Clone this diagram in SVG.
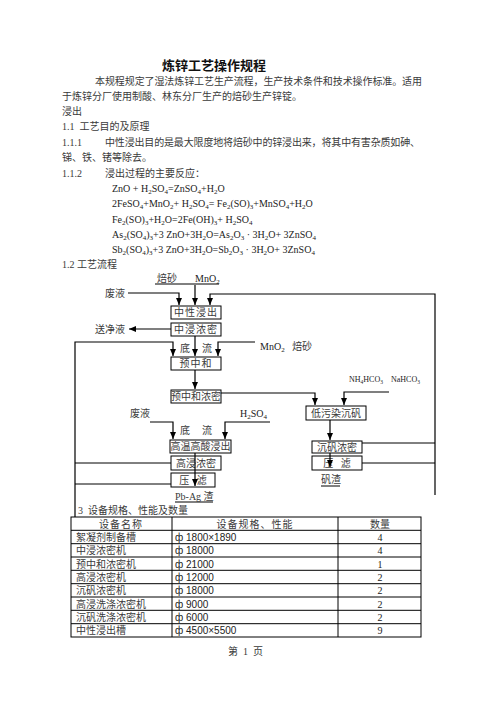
<svg xmlns="http://www.w3.org/2000/svg" width="496" height="702" viewBox="0 0 496 702">
<style>
.t{font-family:"Liberation Serif","Noto Sans CJK SC",serif;font-size:10px;fill:#3a3a3a;white-space:pre}
.c{font-family:"Liberation Serif","Noto Sans CJK SC",serif;font-size:10px;fill:#222;white-space:pre}
.s{font-size:7px}
.b{fill:#fff;stroke:#000;stroke-width:1}
.l{fill:none;stroke:#000;stroke-width:1}
.a{fill:none;stroke:#000;stroke-width:1.2;marker-end:url(#ah)}
.n{font-family:"Liberation Sans",Arial,sans-serif;font-size:10px;fill:#222;white-space:pre}
.m{text-anchor:middle}
</style>
<defs>
<marker id="ah" markerWidth="7" markerHeight="6" refX="7" refY="3" orient="auto" markerUnits="userSpaceOnUse"><path d="M0,0 L7,3 L0,6 z" fill="#000"/></marker>
</defs>
<rect width="496" height="702" fill="#fff"/>

<g id="text-body">
<text x="162" y="70" style="font-family:'Noto Sans CJK SC',sans-serif;font-size:13px;font-weight:bold;fill:#111">炼锌工艺操作规程</text>
<text class="t" x="95" y="84.5" textLength="327" lengthAdjust="spacing">本规程规定了湿法炼锌工艺生产流程，生产技术条件和技术操作标准。适用</text>
<text class="t" x="62" y="100">于炼锌分厂使用制酸、林东分厂生产的焙砂生产锌锭。</text>
<text class="t" x="62" y="115">浸出</text>
<text class="t" x="62" y="130">1.1  工艺目的及原理</text>
<text class="t" x="62" y="145.5">1.1.1</text>
<text class="t" x="105" y="145.5" textLength="315" lengthAdjust="spacing">中性浸出目的是最大限度地将焙砂中的锌浸出来，将其中有害杂质如砷、</text>
<text class="t" x="62" y="161">锑、铁、锗等除去。</text>
<text class="t" x="62" y="177">1.1.2</text>
<text class="t" x="105" y="177">浸出过程的主要反应：</text>
<text class="c" x="112" y="192">ZnO + H<tspan class="s" dy="2">2</tspan><tspan dy="-2">SO</tspan><tspan class="s" dy="2">4</tspan><tspan dy="-2">=ZnSO</tspan><tspan class="s" dy="2">4</tspan><tspan dy="-2">+H</tspan><tspan class="s" dy="2">2</tspan><tspan dy="-2">O</tspan></text>
<text class="c" x="112" y="207">2FeSO<tspan class="s" dy="2">4</tspan><tspan dy="-2">+MnO</tspan><tspan class="s" dy="2">2</tspan><tspan dy="-2">+ H</tspan><tspan class="s" dy="2">2</tspan><tspan dy="-2">SO</tspan><tspan class="s" dy="2">4</tspan><tspan dy="-2">= Fe</tspan><tspan class="s" dy="2">2</tspan><tspan dy="-2">(SO)</tspan><tspan class="s" dy="2">3</tspan><tspan dy="-2">+MnSO</tspan><tspan class="s" dy="2">4</tspan><tspan dy="-2">+H</tspan><tspan class="s" dy="2">2</tspan><tspan dy="-2">O</tspan></text>
<text class="c" x="112" y="223">Fe<tspan class="s" dy="2">2</tspan><tspan dy="-2">(SO)</tspan><tspan class="s" dy="2">3</tspan><tspan dy="-2">+H</tspan><tspan class="s" dy="2">2</tspan><tspan dy="-2">O=2Fe(OH)</tspan><tspan class="s" dy="2">3</tspan><tspan dy="-2">+ H</tspan><tspan class="s" dy="2">2</tspan><tspan dy="-2">SO</tspan><tspan class="s" dy="2">4</tspan></text>
<text class="c" x="112" y="238">As<tspan class="s" dy="2">2</tspan><tspan dy="-2">(SO</tspan><tspan class="s" dy="2">4</tspan><tspan dy="-2">)</tspan><tspan class="s" dy="2">3</tspan><tspan dy="-2">+3 ZnO+3H</tspan><tspan class="s" dy="2">2</tspan><tspan dy="-2">O=As</tspan><tspan class="s" dy="2">2</tspan><tspan dy="-2">O</tspan><tspan class="s" dy="2">3</tspan><tspan dy="-2"> · 3H</tspan><tspan class="s" dy="2">2</tspan><tspan dy="-2">O+ 3ZnSO</tspan><tspan class="s" dy="2">4</tspan></text>
<text class="c" x="112" y="253">Sb<tspan class="s" dy="2">2</tspan><tspan dy="-2">(SO</tspan><tspan class="s" dy="2">4</tspan><tspan dy="-2">)</tspan><tspan class="s" dy="2">3</tspan><tspan dy="-2">+3 ZnO+3H</tspan><tspan class="s" dy="2">2</tspan><tspan dy="-2">O=Sb</tspan><tspan class="s" dy="2">2</tspan><tspan dy="-2">O</tspan><tspan class="s" dy="2">3</tspan><tspan dy="-2"> · 3H</tspan><tspan class="s" dy="2">2</tspan><tspan dy="-2">O+ 3ZnSO</tspan><tspan class="s" dy="2">4</tspan></text>
<text class="t" x="62" y="268">1.2 工艺流程</text>
</g>

<g id="connectors">
<line class="l" x1="155" y1="284" x2="219" y2="284"/>
<polyline class="a" points="128,293 179,293 179,305"/>
<polyline class="a" points="195,285 195,305"/>
<polyline class="a" points="435,495 435,294 210,294 210,305"/>
<line class="l" x1="362" y1="443" x2="435" y2="443"/>
<line class="l" x1="362" y1="463" x2="435" y2="463"/>
<polyline class="a" points="171,329 129,329"/>
<polyline class="a" points="195,336 195,356"/>
<polyline class="a" points="75,517 75,342 173,342 173,356"/>
<line class="l" x1="171" y1="463" x2="75" y2="463"/>
<line class="l" x1="171" y1="484" x2="75" y2="484"/>
<polyline class="a" points="255,342 218,342 218,356"/>
<polyline class="a" points="195,370 195,389"/>
<polyline class="a" points="221,393 315,393 315,405"/>
<polyline class="a" points="389,392 344,392 344,405"/>
<polyline class="a" points="150,422 173,422 173,439"/>
<polyline class="a" points="270,422 225,422 225,439"/>
<line class="l" x1="175" y1="502" x2="213" y2="502"/>
<line class="l" x1="321" y1="486" x2="340" y2="486"/>
</g>

<g id="labels">
<text class="t" x="157" y="282">焙砂</text>
<text class="c" x="195" y="282">MnO<tspan class="s" dy="2">2</tspan></text>
<text class="t" x="105" y="297">废液</text>
<text class="t" x="95" y="333">送净液</text>
<text class="t" x="180" y="352">底</text>
<text class="t" x="202" y="352">流</text>
<text class="c" x="260" y="350">MnO<tspan class="s" dy="2">2</tspan><tspan dy="-2" style="fill:#3a3a3a">   焙砂</tspan></text>
<text class="c" x="349" y="382" style="font-size:8px">NH<tspan dy="2" style="font-size:5.5px">4</tspan><tspan dy="-2">HCO</tspan><tspan dy="2" style="font-size:5.5px">3</tspan><tspan dy="-2">    NaHCO</tspan><tspan dy="2" style="font-size:5.5px">3</tspan></text>
<text class="t" x="130" y="417">废液</text>
<text class="c" x="240" y="417">H<tspan class="s" dy="2">2</tspan><tspan dy="-2">SO</tspan><tspan class="s" dy="2">4</tspan></text>
<text class="t" x="180" y="434">底</text>
<text class="t" x="202" y="434">流</text>
<text class="t" x="175" y="500">Pb-Ag 渣</text>
<text class="t" x="321" y="483">矾渣</text>
</g>

<g id="n-zhongxing"><rect class="b" x="171" y="306" width="50" height="13"/><text class="t m" x="196" y="316" letter-spacing="1">中性浸出</text></g>
<g id="n-zhongjin"><rect class="b" x="171" y="323" width="50" height="13"/><text class="t m" x="196" y="333" letter-spacing="1">中浸浓密</text></g>
<g id="n-yuzhonghe"><rect class="b" x="171" y="357" width="50" height="13"/><text class="t m" x="196" y="367" letter-spacing="1">预中和</text></g>
<g id="n-yzhnm"><rect class="b" x="171" y="390" width="50" height="13"/><text class="t m" x="196" y="400">预中和浓密</text></g>
<g id="n-diwuran"><rect class="b" x="306" y="406" width="60" height="14"/><text class="t m" x="336" y="416.5">低污染沉矾</text></g>
<g id="n-gaowen"><rect class="b" x="170" y="440" width="61" height="13"/><text class="t m" x="200.5" y="450">高温高酸浸出</text></g>
<g id="n-gaojin"><rect class="b" x="171" y="456" width="50" height="14"/><text class="t m" x="196" y="466.5">高浸浓密</text></g>
<g id="n-yalv1"><rect class="b" x="171" y="473" width="44" height="14"/><text class="t m" x="193" y="483.5">压   滤</text></g>
<g id="n-chenfan"><rect class="b" x="312" y="441" width="50" height="12"/><text class="t m" x="337" y="450.5">沉矾浓密</text></g>
<g id="n-yalv2"><rect class="b" x="312" y="456" width="50" height="14"/><text class="t m" x="337" y="466.5">压   滤</text></g>

<g id="inner-lines">
<line x1="195" y1="453" x2="195" y2="486" class="a"/>
<line x1="330" y1="420" x2="330" y2="440" class="a"/>
<line x1="330" y1="453" x2="330" y2="467" class="a"/>
</g>

<g id="table">
<text class="t" x="78" y="514">3  设备规格、性能及数量</text>
<rect x="71" y="517" width="350" height="120" fill="none" stroke="#000" stroke-width="1"/>
<g class="l">
<line x1="172" y1="517" x2="172" y2="637"/>
<line x1="338" y1="517" x2="338" y2="637"/>
<line x1="71" y1="530.3" x2="421" y2="530.3"/>
<line x1="71" y1="543.7" x2="421" y2="543.7"/>
<line x1="71" y1="557" x2="421" y2="557"/>
<line x1="71" y1="570.3" x2="421" y2="570.3"/>
<line x1="71" y1="583.7" x2="421" y2="583.7"/>
<line x1="71" y1="597" x2="421" y2="597"/>
<line x1="71" y1="610.3" x2="421" y2="610.3"/>
<line x1="71" y1="623.7" x2="421" y2="623.7"/>
</g>
<text class="t m" x="121" y="527.5" letter-spacing="1">设备名称</text>
<text class="t m" x="255" y="527.5" letter-spacing="1">设备规格、性能</text>
<text class="t m" x="380" y="527.5">数量</text>
<text class="t" x="76" y="540.8">絮凝剂制备槽</text>
<text class="n" x="175" y="540.8">ф 1800×1890</text>
<text class="c m" x="380" y="540.8">4</text>
<text class="t" x="76" y="554.2">中浸浓密机</text>
<text class="n" x="175" y="554.2">ф 18000</text>
<text class="c m" x="380" y="554.2">4</text>
<text class="t" x="76" y="567.5">预中和浓密机</text>
<text class="n" x="175" y="567.5">ф 21000</text>
<text class="c m" x="380" y="567.5">1</text>
<text class="t" x="76" y="580.8">高浸浓密机</text>
<text class="n" x="175" y="580.8">ф 12000</text>
<text class="c m" x="380" y="580.8">2</text>
<text class="t" x="76" y="594.2">沉矾浓密机</text>
<text class="n" x="175" y="594.2">ф 18000</text>
<text class="c m" x="380" y="594.2">2</text>
<text class="t" x="76" y="607.5">高浸洗涤浓密机</text>
<text class="n" x="175" y="607.5">ф 9000</text>
<text class="c m" x="380" y="607.5">2</text>
<text class="t" x="76" y="620.8">沉矾洗涤浓密机</text>
<text class="n" x="175" y="620.8">ф 6000</text>
<text class="c m" x="380" y="620.8">2</text>
<text class="t" x="76" y="634.2">中性浸出槽</text>
<text class="n" x="175" y="634.2">ф 4500×5500</text>
<text class="c m" x="380" y="634.2">9</text>
</g>

<text class="t" x="228" y="655">第  1  页</text>
</svg>
